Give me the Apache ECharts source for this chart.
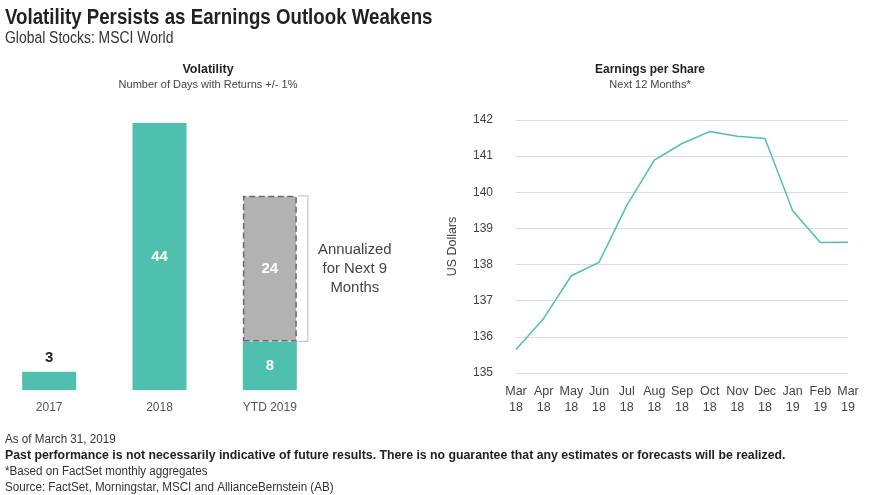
<!DOCTYPE html>
<html><head><meta charset="utf-8">
<script src="https://cdn.jsdelivr.net/npm/echarts@6/dist/echarts.min.js"></script>
<style>html,body{margin:0;padding:0;background:#fff}#c{width:880px;height:495px}</style>
</head><body><div id="c"></div>
<script>
var FONT = '"Liberation Sans", Arial, sans-serif';
var volCategories = ['2017', '2018', 'YTD 2019'];
var volActual = [3, 44, 8];
var volAnnualized = [null, null, 24];
var epsMonths = ['Mar\n18','Apr\n18','May\n18','Jun\n18','Jul\n18','Aug\n18','Sep\n18','Oct\n18','Nov\n18','Dec\n18','Jan\n19','Feb\n19','Mar\n19'];
var epsValues = [135.65, 136.51, 137.69, 138.06, 139.63, 140.89, 141.35, 141.68, 141.55, 141.49, 139.49, 138.61, 138.62];
var epsTicks = [135, 136, 137, 138, 139, 140, 141, 142];
var TEAL = '#4fbfae';

function txt(x, y, s, font, fill, sx, align) {
  return {type: 'text', x: x, y: y, scaleX: sx || 1,
    style: {text: s, font: font, fill: fill, align: align || 'left', verticalAlign: 'middle'}};
}

var chart = echarts.init(document.getElementById('c'), null, {renderer: 'canvas'});
var baseGraphic = [
  txt(5, 18, 'Volatility Persists as Earnings Outlook Weakens', 'bold 22px ' + FONT, '#222', 0.85),
  txt(5, 39, 'Global Stocks: MSCI World', '16px ' + FONT, '#333', 0.87),
  txt(208, 70, 'Volatility', 'bold 12.5px ' + FONT, '#222', 1, 'center'),
  txt(208, 85, 'Number of Days with Returns +/- 1%', '11px ' + FONT, '#444', 1, 'center'),
  txt(650, 70, 'Earnings per Share', 'bold 12px ' + FONT, '#222', 1, 'center'),
  txt(650, 85, 'Next 12 Months*', '11px ' + FONT, '#444', 1, 'center'),
  txt(5, 440, 'As of March 31, 2019', '12px ' + FONT, '#333', 0.97),
  txt(5, 456, 'Past performance is not necessarily indicative of future results. There is no guarantee that any estimates or forecasts will be realized.', 'bold 12.3px ' + FONT, '#222', 1),
  txt(5, 472, '*Based on FactSet monthly aggregates', '12px ' + FONT, '#333', 0.97),
  txt(5, 488, 'Source: FactSet, Morningstar, MSCI and AllianceBernstein (AB)', '12px ' + FONT, '#333', 0.97)
];

var opt = {
  backgroundColor: '#fff',
  animation: false,
  textStyle: {fontFamily: FONT},
  grid: [
    {left: -6, width: 331, top: 123, bottom: 105, outerBoundsMode: 'none', containLabel: false},
    {left: 516, right: 32, top: 120, bottom: 122, outerBoundsMode: 'none', containLabel: false}
  ],
  xAxis: [
    {type: 'category', gridIndex: 0, data: volCategories,
     axisLine: {show: false}, axisTick: {show: false},
     axisLabel: {color: '#555', fontSize: 12, margin: 12, fontFamily: FONT}},
    {type: 'category', gridIndex: 1, data: epsMonths, boundaryGap: false,
     axisLine: {show: false}, axisTick: {show: false},
     axisLabel: {color: '#444', fontSize: 12.5, margin: 11, lineHeight: 16, fontFamily: FONT, interval: 0}}
  ],
  yAxis: [
    {type: 'value', gridIndex: 0, min: 0, max: 44, show: false, splitLine: {show: false}},
    {type: 'value', gridIndex: 1, min: epsTicks[0], max: epsTicks[epsTicks.length-1], interval: 1,
     axisLine: {show: false}, axisTick: {show: false},
     axisLabel: {color: '#444', fontSize: 12, margin: 23, fontFamily: FONT},
     splitLine: {lineStyle: {color: '#dcdcdc', width: 1}},
     name: 'US Dollars', nameLocation: 'middle', nameRotate: 90, nameGap: 57,
     nameTextStyle: {color: '#444', fontSize: 12.5, fontFamily: FONT}}
  ],
  series: [
    {type: 'bar', xAxisIndex: 0, yAxisIndex: 0, stack: 'v', barWidth: 54,
     data: volActual.map(function(v){
       return v < 5 ? {value: v, label: {position: 'top', color: '#222', distance: 6}} : v;
     }),
     itemStyle: {color: TEAL},
     label: {show: true, fontFamily: FONT, fontWeight: 'bold', fontSize: 15, position: 'inside', color: '#fff'},
     z: 2},
    {type: 'bar', xAxisIndex: 0, yAxisIndex: 0, stack: 'v', data: volAnnualized, barWidth: 56,
     itemStyle: {color: '#b2b2b2', borderColor: '#6a6a6a', borderWidth: 1.5, borderType: [6, 3.5]},
     label: {show: true, position: 'inside', color: '#fff', fontWeight: 'bold', fontSize: 15, fontFamily: FONT},
     z: 3},
    {type: 'line', xAxisIndex: 1, yAxisIndex: 1, data: epsValues, symbol: 'none',
     lineStyle: {color: TEAL, width: 1.5}}
  ],
  graphic: baseGraphic
};
chart.setOption(opt);

// bracket annotation computed from the axes
var pBot = chart.convertToPixel({gridIndex: 0}, [2, volActual[2]]);
var pTop = chart.convertToPixel({gridIndex: 0}, [2, volActual[2] + volAnnualized[2]]);
var bx0 = pBot[0] + 28, bx1 = pBot[0] + 38;
var g = baseGraphic.slice();
g.push({type: 'polyline', shape: {points: [[bx0, pTop[1]], [bx1, pTop[1]], [bx1, pBot[1]], [bx0, pBot[1]]]},
  style: {stroke: '#c8c8c8', lineWidth: 1.2, fill: null}, z: 1});
g.push({type: 'text', x: bx1 + 47, y: (pTop[1] + pBot[1]) / 2, scaleX: 0.96,
  style: {text: 'Annualized\nfor Next 9\nMonths', font: '15.5px ' + FONT, fill: '#444', align: 'center', verticalAlign: 'middle', lineHeight: 19}});
chart.setOption({graphic: g}, {replaceMerge: ['graphic']});
</script></body></html>
